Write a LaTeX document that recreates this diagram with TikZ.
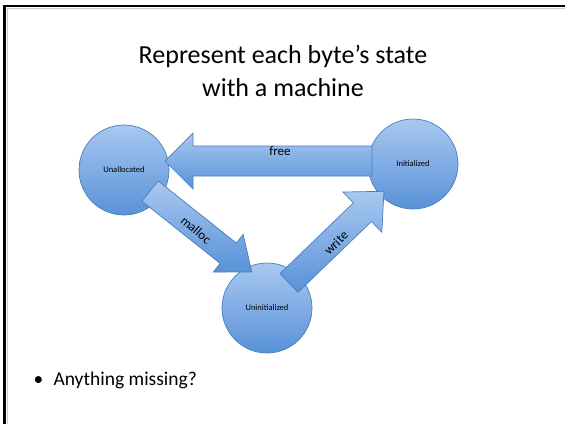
\documentclass[tikz,border=0pt]{standalone}
\usepackage{fontspec}
\setmainfont{Carlito}
\definecolor{ctop}{RGB}{168,200,240}
\definecolor{cbot}{RGB}{88,146,216}
\definecolor{ol}{RGB}{74,126,187}
\newcommand\BlockArrow[6]{%
  \begin{scope}[shift={(#1)},rotate=#2]
    \path[arrowfill] (0,-#4) -- ({#3-#6},-#4) -- ({#3-#6},-#5) -- (#3,0)
      -- ({#3-#6},#5) -- ({#3-#6},#4) -- (0,#4) -- cycle;
  \end{scope}}
\begin{document}
\begin{tikzpicture}[x=1pt,y=-1pt,
  state/.style={circle, minimum size=90pt, inner sep=0pt, draw=ol, line width=0.7pt,
    top color=ctop, bottom color=cbot, font=\fontsize{8.5}{10}\selectfont},
  arrowfill/.style={draw=ol, line width=0.7pt, top color=ctop, bottom color=cbot},
  alabel/.style={font=\fontsize{13}{15}\selectfont},
  title/.style={align=center, font=\fontsize{26}{33}\selectfont},
  body/.style={font=\fontsize{19.5}{23}\selectfont}]
\useasboundingbox (0,0) rectangle (565,424);
\draw[gray!40, line width=0.8pt] (7,424) -- (7,8.5) -- (565,8.5);
\draw[black, line width=2.6pt] (4.5,424) -- (4.5,6) -- (565,6);

\node[title] (title) at (283,71) {Represent each byte’s state\\with a machine};

\node[state] (unal) at (124,170) {Unallocated};
\node[state] (init) at (413,164) {Initialized};
\node[state] (unin) at (267,308) {Uninitialized};

\coordinate (freeS) at (372,161);
\coordinate (mallocS) at (150,191);
\coordinate (writeS) at (289,283);

\BlockArrow{freeS}{180}{207}{15}{28}{28}
\BlockArrow{mallocS}{-38.5}{130}{13}{24}{30}
\BlockArrow{writeS}{44}{132}{13}{28}{30}

\node[alabel] (freel) at (280,151) {free};
\node[alabel, rotate=-40] (mallocl) at (196,230) {malloc};
\node[alabel, rotate=45] (writel) at (336,243) {write};

\node[body, anchor=base west] (q) at (30,385) {\makebox[20pt][l]{•}Anything missing?};
\end{tikzpicture}
\end{document}
